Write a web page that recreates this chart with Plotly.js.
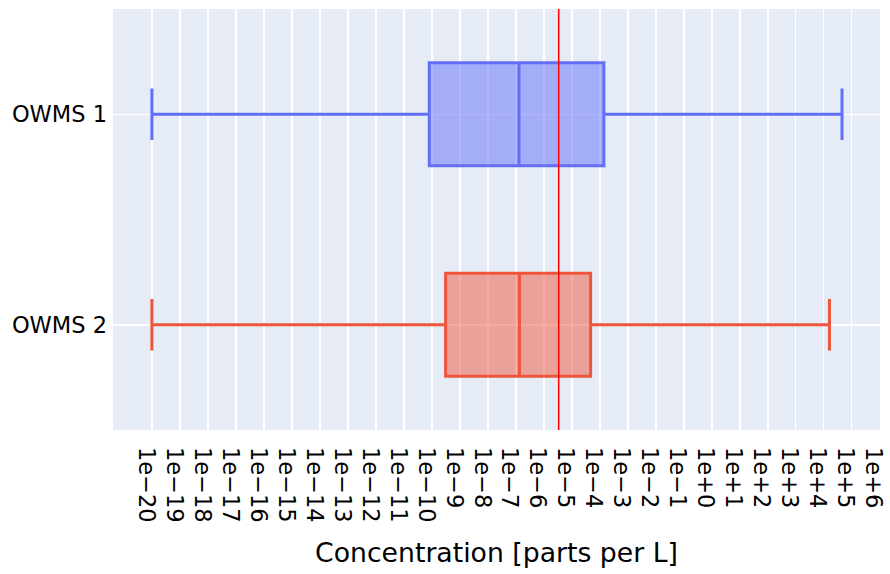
<!DOCTYPE html>
<html>
<head>
<meta charset="utf-8">
<script src="https://cdn.plot.ly/plotly-3.0.1.min.js"></script>
<style>html,body{margin:0;padding:0;background:#fff;}#chart{width:890px;height:574px;}</style>
</head>
<body>
<div id="chart"></div>
<script>
// Categories
const categories = ["OWMS 1", "OWMS 2"];
// Box statistics (parts per L)
const lowerFence = [1e-20, 1e-20];
const q1Values = [8.1e-11, 3.1e-10];
const medianValues = [1.3e-7, 1.35e-7];
const q3Values = [1.4e-4, 4.7e-5];
const upperFence = [4.5e4, 1.6e4];
// Reference line value
const refLineValue = 3.4e-6;
// Tick values and labels
const tickValues = [1e-20,1e-19,1e-18,1e-17,1e-16,1e-15,1e-14,1e-13,1e-12,1e-11,1e-10,1e-9,1e-8,1e-7,1e-6,1e-5,1e-4,1e-3,1e-2,1e-1,1e0,1e1,1e2,1e3,1e4,1e5,1e6];
const tickLabels = ["1e\u221220","1e\u221219","1e\u221218","1e\u221217","1e\u221216","1e\u221215","1e\u221214","1e\u221213","1e\u221212","1e\u221211","1e\u221210","1e\u22129","1e\u22128","1e\u22127","1e\u22126","1e\u22125","1e\u22124","1e\u22123","1e\u22122","1e\u22121","1e+0","1e+1","1e+2","1e+3","1e+4","1e+5","1e+6"];
const colors = ["#636efa", "#EF553B"];

const traces = categories.map((c, i) => ({
  type: "box",
  orientation: "h",
  name: c,
  y: [c],
  q1: [q1Values[i]],
  median: [medianValues[i]],
  q3: [q3Values[i]],
  lowerfence: [lowerFence[i]],
  upperfence: [upperFence[i]],
  width: 0.49,
  marker: {color: colors[i]},
  line: {color: colors[i], width: 3},
  showlegend: false
}));

const layout = {
  width: 890, height: 574,
  margin: {l: 113, r: 10, t: 9, b: 144},
  paper_bgcolor: "#fff",
  plot_bgcolor: "#E5ECF6",
  font: {family: "DejaVu Sans", size: 22.5, color: "#000"},
  showlegend: false,
  boxmode: "overlay",
  xaxis: {
    type: "log",
    range: [-21.39, 6.01],
    tickvals: tickValues,
    ticktext: tickLabels,
    tickangle: 90,
    ticklabeloverflow: "allow",
    ticklabelshift: -6,
    ticklabelstandoff: 16,
    gridcolor: "#fff",
    gridwidth: 1.5,
    zeroline: false,
    showline: false,
    ticks: "",
    tickfont: {family: "DejaVu Sans", size: 22.5, color: "#000"},
    title: {text: "Concentration [parts per L]", font: {family: "DejaVu Sans", size: 26.7, color: "#000"}, standoff: 21}
  },
  yaxis: {
    type: "category",
    range: [1.5, -0.5],
    autorange: false,
    ticklabelstandoff: 5,
    gridcolor: "#fff",
    gridwidth: 1.5,
    zeroline: false,
    ticks: "",
    tickfont: {family: "DejaVu Sans", size: 22.5, color: "#000"}
  },
  shapes: [{
    type: "line",
    xref: "x", yref: "paper",
    x0: refLineValue, x1: refLineValue,
    y0: 0, y1: 1,
    line: {color: "red", width: 1.5}
  }]
};

Plotly.newPlot("chart", traces, layout, {staticPlot: true, displayModeBar: false});
</script>
</body>
</html>
